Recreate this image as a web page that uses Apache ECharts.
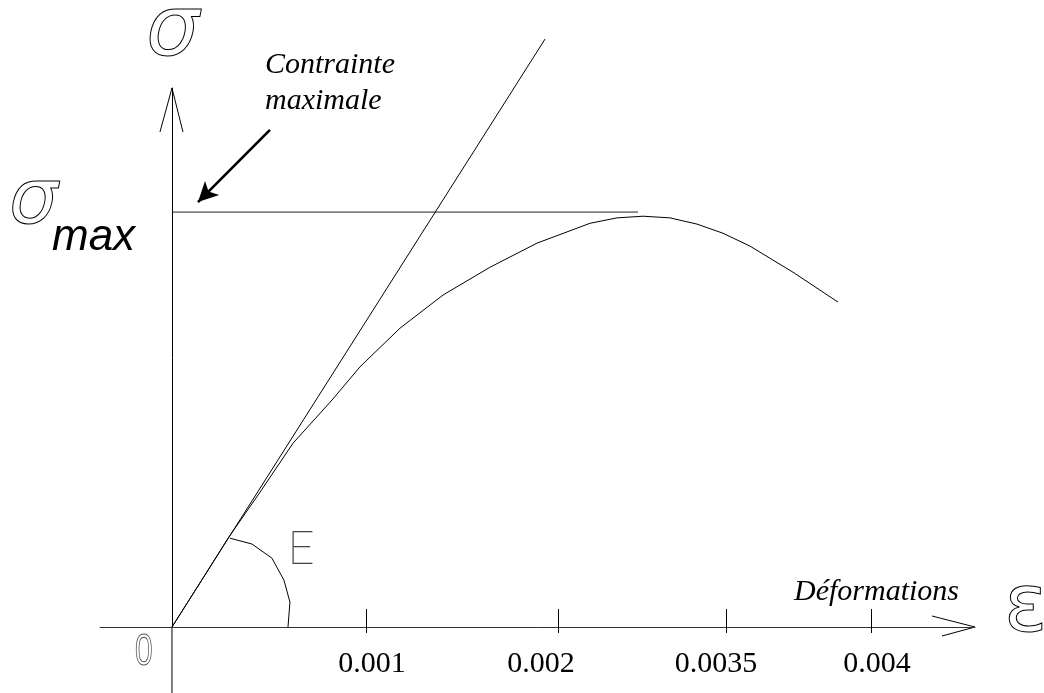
<!DOCTYPE html>
<html>
<head>
<meta charset="utf-8">
<script src="https://cdn.jsdelivr.net/npm/echarts@6/dist/echarts.min.js"></script>
<style>
  html, body { margin: 0; padding: 0; background: #fff; }
  #chart { width: 1044px; height: 693px; }
</style>
</head>
<body>
<div id="chart"></div>
<script>
// Stress–strain diagram in relative units:
// x = strain position (1 unit ≈ 0.001), y = stress as a fraction of σmax.
const curveX = [0, 0.144, 0.289, 0.454, 0.624, 0.825, 0.969, 1.175, 1.397, 1.639, 1.881, 2.155, 2.294, 2.428, 2.567, 2.706, 2.840, 2.979, 3.201, 3.433];
const curveY = [0, 0.106, 0.214, 0.325, 0.443, 0.547, 0.627, 0.720, 0.800, 0.867, 0.925, 0.973, 0.986, 0.990, 0.986, 0.971, 0.949, 0.918, 0.855, 0.783];

// initial tangent (modulus E)
const tangentX = [0, 1.923];
const tangentY = [0, 1.417];

// σmax level
const sigmaMaxX = [0, 2.402];
const sigmaMaxY = [1, 1];

// angle arc marking E
const arcX = [0.299, 0.412, 0.515, 0.577, 0.608, 0.598];
const arcY = [0.214, 0.200, 0.166, 0.113, 0.060, 0];

// pointer towards the σmax line
const arrowX = [0.505, 0.134];
const arrowY = [1.198, 1.024];

// strain axis ticks and their labels
const tickPos = [1.0, 1.990, 2.856, 3.603];
const labelPos = [1.031, 1.902, 2.804, 3.634];
const tickLabels = ['0.001', '0.002', '0.0035', '0.004'];

const xMin = -0.371, xMax = 4.139;
const yMin = 0, yMax = 1.299;

const pts = (xs, ys) => xs.map((x, i) => [x, ys[i]]);

function labelFor(v) {
  let best = 0;
  labelPos.forEach((p, i) => { if (Math.abs(p - v) < Math.abs(labelPos[best] - v)) best = i; });
  return tickLabels[best];
}

function lineSeries(name, xs, ys, color, width) {
  return {
    name, type: 'line', data: pts(xs, ys),
    symbol: 'none', showSymbol: false, clip: false, silent: true, animation: false,
    lineStyle: { color, width }
  };
}

const chart = echarts.init(document.getElementById('chart'), null, { renderer: 'canvas' });

const curve = lineSeries('curve', curveX, curveY, '#000', 1);
curve.markLine = {
  silent: true,
  animation: false,
  symbol: ['none', 'arrow'],
  symbolSize: [15, 20],
  label: { show: false },
  lineStyle: { color: '#000', width: 2.6, type: 'solid' },
  data: [[{ coord: [arrowX[0], arrowY[0]] }, { coord: [arrowX[1], arrowY[1]] }]]
};

chart.setOption({
  backgroundColor: '#fff',
  animation: false,
  grid: { left: 100, right: 69, top: 88, bottom: 66, containLabel: false, outerBoundsMode: 'none' },
  xAxis: [
    {
      type: 'value', min: xMin, max: xMax, position: 'bottom',
      axisLine: { onZero: false, lineStyle: { color: '#333', width: 1 } },
      axisTick: { show: true, customValues: tickPos, length: 6, lineStyle: { color: '#000', width: 1 } },
      axisLabel: {
        show: true, customValues: labelPos, formatter: labelFor, margin: 22,
        color: '#000', fontFamily: 'Liberation Serif', fontSize: 30
      },
      splitLine: { show: false }
    },
    {
      type: 'value', min: xMin, max: xMax, position: 'top',
      axisLine: { show: false, onZero: true, onZeroAxisIndex: 0 },
      axisTick: { show: true, customValues: tickPos, length: 18, lineStyle: { color: '#000', width: 1 } },
      axisLabel: { show: false },
      splitLine: { show: false }
    }
  ],
  yAxis: [{
    type: 'value', min: yMin, max: yMax,
    axisLine: { onZero: true, onZeroAxisIndex: 0, lineStyle: { color: '#000', width: 1 } },
    axisTick: { show: false },
    axisLabel: { show: false },
    splitLine: { show: false }
  }],
  series: [
    curve,
    lineSeries('tangent', tangentX, tangentY, '#000', 1),
    lineSeries('sigmaMax', sigmaMaxX, sigmaMaxY, '#222', 1),
    lineSeries('arc', arcX, arcY, '#000', 1)
  ]
});

// open arrowheads at the axis ends, and the stress axis continued below the origin
const origin = chart.convertToPixel({ gridIndex: 0 }, [0, 0]);
const xTip = chart.convertToPixel({ gridIndex: 0 }, [xMax, 0]);
const yTip = chart.convertToPixel({ gridIndex: 0 }, [0, yMax]);
const H = chart.getHeight();

const outline = (text, x, y, font, extra) => Object.assign({
  type: 'text', x, y, silent: true,
  style: { text, font, fill: 'none', stroke: '#000', lineWidth: 1, align: 'left', verticalAlign: 'middle' }
}, extra || {});

chart.setOption({
  graphic: [
    { type: 'line', silent: true,
      shape: { x1: origin[0], y1: origin[1], x2: origin[0], y2: H },
      style: { stroke: '#000', lineWidth: 1 } },
    { type: 'polyline', silent: true,
      shape: { points: [[xTip[0] - 43, xTip[1] - 11], xTip, [xTip[0] - 33, xTip[1] + 9]] },
      style: { stroke: '#000', fill: 'none', lineWidth: 1 } },
    { type: 'polyline', silent: true,
      shape: { points: [[yTip[0] - 12, yTip[1] + 44], yTip, [yTip[0] + 11, yTip[1] + 44]] },
      style: { stroke: '#000', fill: 'none', lineWidth: 1 } },

    outline('σ', 146, 33, 'italic 84px "DejaVu Sans"'),
    outline('σ', 9, 203, 'italic 77px "DejaVu Sans"'),
    outline('ε', 1004, 610, '80px "DejaVu Sans"'),
    Object.assign(outline('0', 135, 653, '44px "Liberation Sans"', { scaleX: 0.72 }), { style: { text: '0', font: '44px "Liberation Sans"', fill: 'none', stroke: '#555', lineWidth: 1, align: 'left', verticalAlign: 'middle' } }),
    { type: 'text', x: 288, y: 552, silent: true,
      style: { text: 'E', font: '100 46px Roboto', fill: '#444', align: 'left', verticalAlign: 'middle' } },

    { type: 'text', x: 52, y: 238, silent: true,
      style: { text: 'max', font: 'italic 44px "Liberation Sans"', fill: '#000', align: 'left', verticalAlign: 'middle' } },
    { type: 'text', x: 265, y: 65, silent: true,
      style: { text: 'Contrainte', font: 'italic 30px "Liberation Serif"', fill: '#000', align: 'left', verticalAlign: 'middle' } },
    { type: 'text', x: 265, y: 101, silent: true,
      style: { text: 'maximale', font: 'italic 30px "Liberation Serif"', fill: '#000', align: 'left', verticalAlign: 'middle' } },
    { type: 'text', x: 794, y: 592, silent: true,
      style: { text: 'Déformations', font: 'italic 30px "Liberation Serif"', fill: '#000', align: 'left', verticalAlign: 'middle' } }
  ]
});
</script>
</body>
</html>
